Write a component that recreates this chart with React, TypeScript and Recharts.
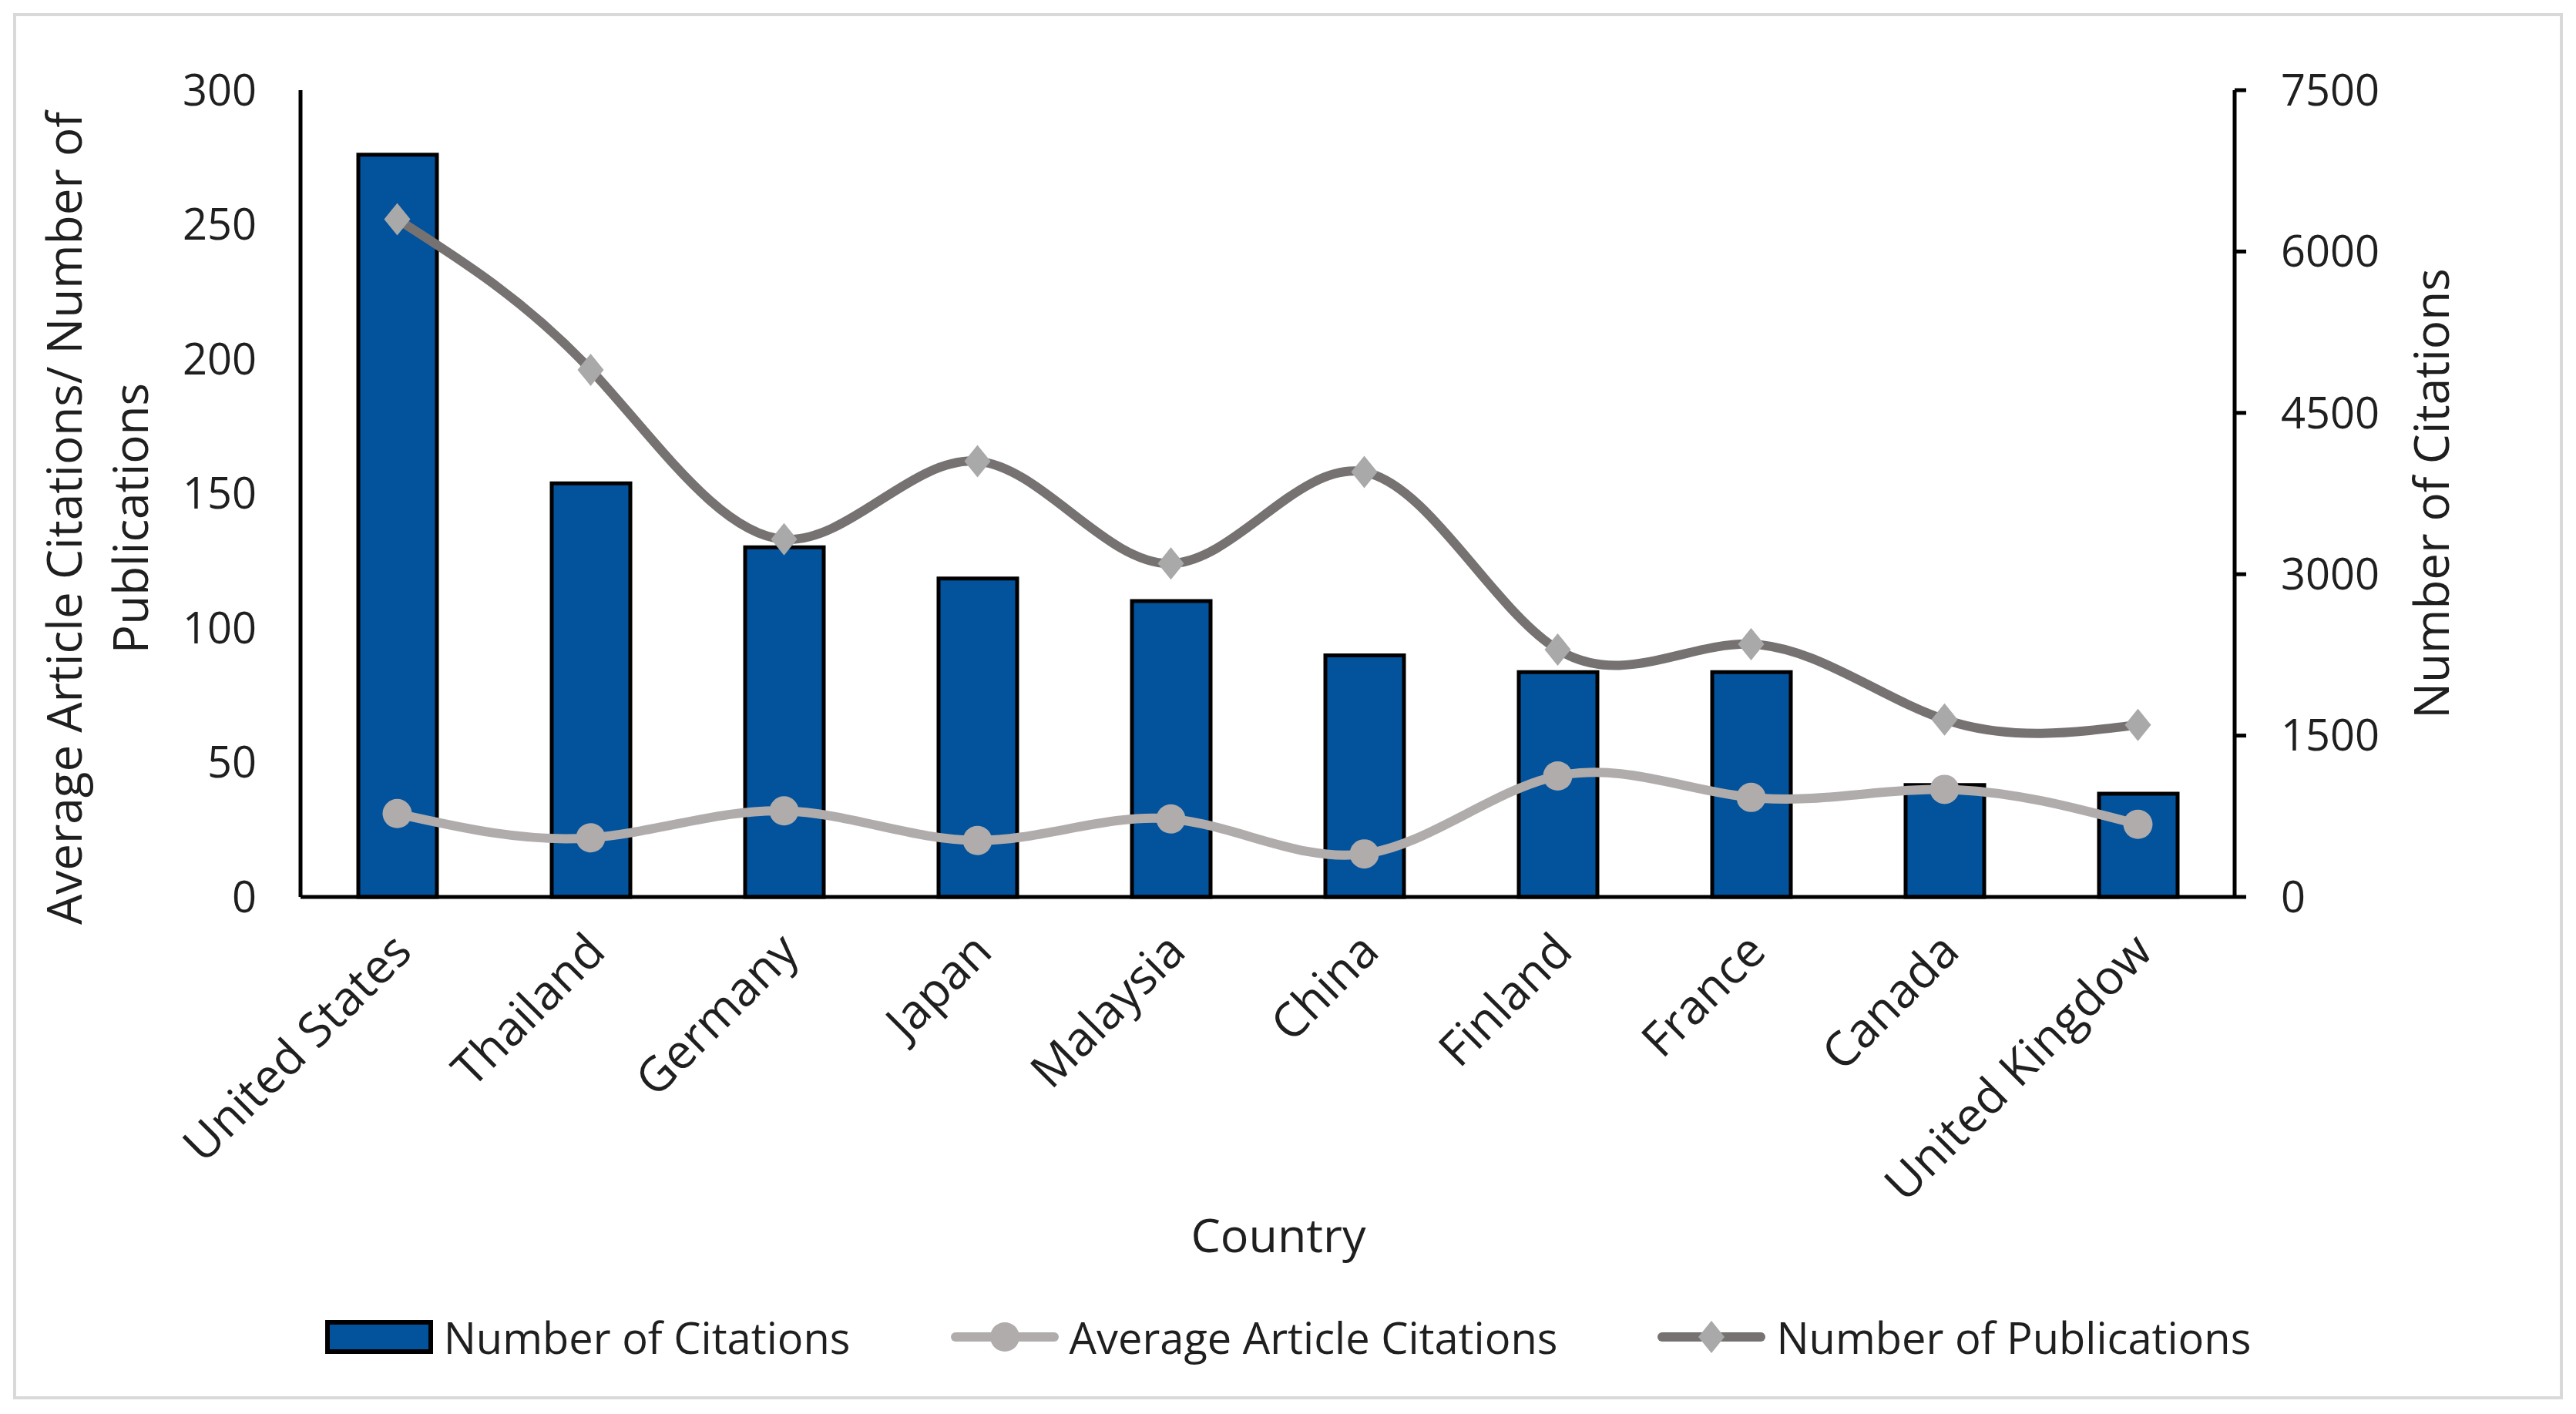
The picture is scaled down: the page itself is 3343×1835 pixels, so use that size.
import React from 'react';
import { ComposedChart, Bar, Line, XAxis, YAxis, Legend, Label } from 'recharts';

// values
const countries = [
  'United States', 'Thailand', 'Germany', 'Japan', 'Malaysia',
  'China', 'Finland', 'France', 'Canada', 'United Kingdow',
];
const citations = [6900, 3845, 3250, 2960, 2750, 2245, 2090, 2090, 1040, 960];
const avgCitations = [31, 22, 32, 21, 29, 16, 45, 37, 40, 27];
const publications = [252, 196, 133, 162, 124, 158, 92, 94, 66, 64];

const leftTicks = [0, 50, 100, 150, 200, 250, 300];
const rightTicks = [0, 1500, 3000, 4500, 6000, 7500];
const legendOrder = ['citations', 'avg', 'pubs'];

const rows = countries.map((country, i) => ({
  country,
  citations: citations[i],
  avg: avgCitations[i],
  pubs: publications[i],
}));

const W = 3343;
const H = 1835;
const FONT = '"Open Sans", "Noto Sans", sans-serif';
const TEXT = '#1f1f1f';
const BLUE = '#02529c';
const LIGHT = '#b0acac';
const DARK = '#777272';
const MARKER = '#a9a9a9';

const CountryTick = (props: any) => {
  const { x, y, payload } = props;
  const ax = x + 22;
  const ay = y + 74;
  return (
    <text
      x={ax}
      y={ay}
      transform={`rotate(-45, ${ax}, ${ay})`}
      textAnchor="end"
      fontFamily={FONT}
      fontSize={62}
      fill={TEXT}
    >
      {payload.value}
    </text>
  );
};

const Diamond = (props: any) => {
  const { cx, cy } = props;
  if (cx == null || cy == null) return null;
  const w = 17;
  const h = 21;
  return (
    <path
      d={`M${cx},${cy - h} L${cx + w},${cy} L${cx},${cy + h} L${cx - w},${cy} Z`}
      fill={MARKER}
    />
  );
};

const Dot = (props: any) => {
  const { cx, cy } = props;
  if (cx == null || cy == null) return null;
  return <circle cx={cx} cy={cy} r={19} fill={LIGHT} />;
};

const LegendContent = (props: any) => {
  const payload = [...(props.payload || [])].sort(
    (a: any, b: any) => legendOrder.indexOf(a.dataKey) - legendOrder.indexOf(b.dataKey),
  );
  return (
    <div
      style={{
        height: 100,
        display: 'flex',
        justifyContent: 'center',
        alignItems: 'center',
        fontFamily: FONT,
        fontSize: 56,
        color: TEXT,
        gap: 130,
      }}
    >
      {payload.map((entry: any) => {
        let swatch;
        if (entry.dataKey === 'citations') {
          swatch = (
            <svg width={140} height={46}>
              <rect x={3} y={4} width={134} height={38} fill={BLUE} stroke="#000" strokeWidth={6} />
            </svg>
          );
        } else if (entry.dataKey === 'avg') {
          swatch = (
            <svg width={140} height={46}>
              <line x1={6} y1={23} x2={134} y2={23} stroke={LIGHT} strokeWidth={12} strokeLinecap="round" />
              <circle cx={70} cy={23} r={19} fill={LIGHT} />
            </svg>
          );
        } else {
          swatch = (
            <svg width={140} height={46}>
              <line x1={6} y1={23} x2={134} y2={23} stroke={DARK} strokeWidth={12} strokeLinecap="round" />
              <path d="M70,2 L87,23 L70,44 L53,23 Z" fill={MARKER} />
            </svg>
          );
        }
        return (
          <div key={entry.value} style={{ display: 'flex', alignItems: 'center', gap: 14 }}>
            {swatch}
            <span>{entry.value}</span>
          </div>
        );
      })}
    </div>
  );
};

export default function App() {
  return (
    <div style={{ position: 'relative', width: W, height: H, background: '#fff' }}>
      <style>{'body{margin:0;}'}</style>
      <div
        style={{
          position: 'absolute',
          left: 17,
          top: 17,
          width: 3309,
          height: 1799,
          border: '4px solid #d9d9d9',
          boxSizing: 'border-box',
        }}
      />
      <ComposedChart
        width={W}
        height={H}
        data={rows}
        margin={{ top: 117, right: 0, bottom: 50, left: 0 }}
        barCategoryGap={0}
      >
        <XAxis
          dataKey="country"
          height={521}
          interval={0}
          tickLine={false}
          tickSize={0}
          tickMargin={0}
          axisLine={{ stroke: '#000', strokeWidth: 5 }}
          tick={<CountryTick />}
        >
          <Label
            content={(p: any) => {
              const vb = p.viewBox;
              return (
                <text
                  x={vb.x + vb.width / 2 + 14}
                  y={vb.y + 461}
                  textAnchor="middle"
                  fontFamily={FONT}
                  fontSize={61}
                  fill={TEXT}
                >
                  Country
                </text>
              );
            }}
          />
        </XAxis>
        <YAxis
          yAxisId="left"
          width={390}
          domain={[0, 300]}
          ticks={leftTicks}
          interval={0}
          tickLine={false}
          tickSize={0}
          tickMargin={57}
          axisLine={{ stroke: '#000', strokeWidth: 5 }}
          tick={{ fontFamily: FONT, fontSize: 56, fill: TEXT }}
        >
          <Label
            content={(p: any) => {
              const vb = p.viewBox;
              const cy = vb.y + vb.height / 2 + 32;
              return (
                <text
                  transform={`translate(0, ${cy}) rotate(-90)`}
                  textAnchor="middle"
                  fontFamily={FONT}
                  fontSize={62}
                  fill={TEXT}
                >
                  <tspan x={0} y={106}>Average Article Citations/ Number of</tspan>
                  <tspan x={0} y={192}>Publications</tspan>
                </text>
              );
            }}
          />
        </YAxis>
        <YAxis
          yAxisId="right"
          orientation="right"
          width={443}
          domain={[0, 7500]}
          ticks={rightTicks}
          interval={0}
          tickSize={15}
          tickMargin={45}
          tickLine={{ stroke: '#000', strokeWidth: 5 }}
          axisLine={{ stroke: '#000', strokeWidth: 5 }}
          tick={{ fontFamily: FONT, fontSize: 56, fill: TEXT, textAnchor: 'start' }}
        >
          <Label
            content={(p: any) => {
              const vb = p.viewBox;
              const cy = vb.y + vb.height / 2;
              return (
                <text
                  transform={`translate(0, ${cy}) rotate(-90)`}
                  textAnchor="middle"
                  fontFamily={FONT}
                  fontSize={62}
                  fill={TEXT}
                >
                  <tspan x={0} y={3178}>Number of Citations</tspan>
                </text>
              );
            }}
          />
        </YAxis>
        <Legend verticalAlign="bottom" content={<LegendContent />} />
        <Bar
          yAxisId="right"
          dataKey="citations"
          name="Number of Citations"
          barSize={102}
          fill={BLUE}
          stroke="#000"
          strokeWidth={5}
          isAnimationActive={false}
        />
        <Line
          yAxisId="left"
          dataKey="avg"
          name="Average Article Citations"
          type="natural"
          stroke={LIGHT}
          strokeWidth={12}
          dot={<Dot />}
          activeDot={false}
          isAnimationActive={false}
        />
        <Line
          yAxisId="left"
          dataKey="pubs"
          name="Number of Publications"
          type="natural"
          stroke={DARK}
          strokeWidth={12}
          dot={<Diamond />}
          activeDot={false}
          isAnimationActive={false}
        />
      </ComposedChart>
    </div>
  );
}
